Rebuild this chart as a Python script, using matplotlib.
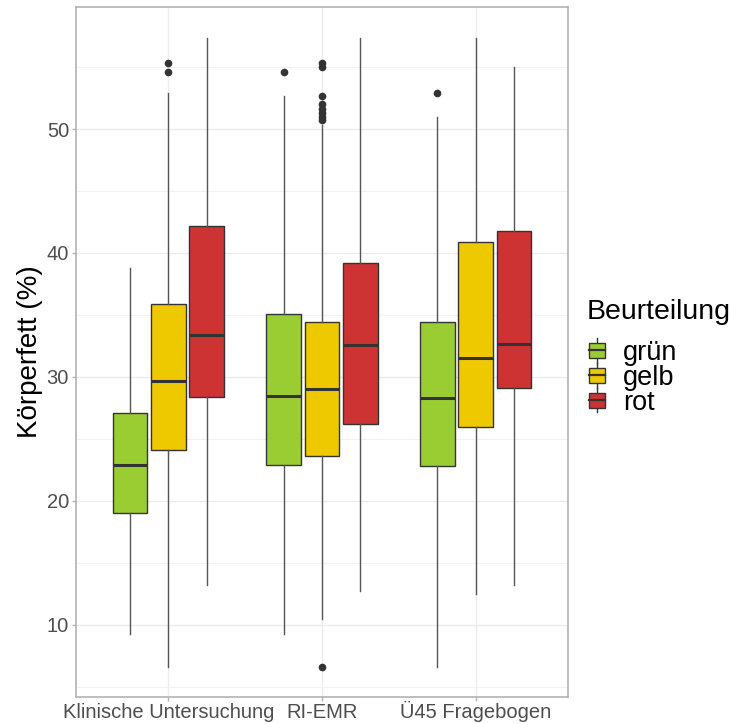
import matplotlib
matplotlib.use("Agg")
import matplotlib.pyplot as plt
from matplotlib.legend_handler import HandlerBase
from matplotlib.lines import Line2D
from matplotlib.patches import Patch, Rectangle

plt.rcParams["font.family"] = ["Liberation Sans", "DejaVu Sans"]

# data
categories = ["Klinische Untersuchung", "RI-EMR", "Ü45 Fragebogen"]
ratings = ["grün", "gelb", "rot"]
colors = ["#9ACD32", "#EEC900", "#CD3333"]

# per category: [grün, gelb, rot]
whislo = [[9.3, 6.6, 13.2], [9.3, 10.5, 12.7], [6.6, 12.5, 13.2]]
q1 = [[19.0, 24.1, 28.4], [22.9, 23.6, 26.2], [22.8, 26.0, 29.1]]
med = [[22.9, 29.7, 33.4], [28.5, 29.0, 32.6], [28.3, 31.5, 32.7]]
q3 = [[27.1, 35.9, 42.2], [35.1, 34.4, 39.2], [34.4, 40.9, 41.8]]
whishi = [[38.8, 52.9, 57.3], [52.7, 50.3, 57.3], [51.0, 57.3, 55.0]]
fliers = [
    [[], [54.6, 55.3], []],
    [[54.6], [6.6, 50.7, 51.0, 51.3, 51.6, 52.0, 52.7, 55.0, 55.3], []],
    [[52.9], [], []],
]

y_ticks = [10, 20, 30, 40, 50]
y_minor = [5, 15, 25, 35, 45, 55]

EDGE = "#333333"
GRID = "#EBEBEB"
BORDER = "#B3B3B3"
TEXT = "#4D4D4D"


class BoxKeyHandler(HandlerBase):
    def create_artists(self, legend, orig_handle, xdescent, ydescent,
                       width, height, fontsize, trans):
        cx = width / 2 - xdescent
        y0 = -ydescent
        bw = width * 0.8
        whisk = Line2D([cx, cx], [y0 - height * 0.15, y0 + height * 1.15],
                       color=EDGE, lw=1.0, transform=trans)
        box = Rectangle((cx - bw / 2, y0 + height * 0.1), bw, height * 0.8,
                        facecolor=orig_handle.get_facecolor(), edgecolor=EDGE,
                        lw=1.0, transform=trans)
        mid = Line2D([cx - bw / 2, cx + bw / 2], [y0 + height / 2] * 2,
                     color=EDGE, lw=1.6, transform=trans)
        return [whisk, box, mid]


def main():
    fig = plt.figure(figsize=(7.3, 7.24), dpi=100)
    ax = fig.add_axes([76 / 730, 27 / 724, 492 / 730, 690 / 724])

    offsets = [-0.25, 0.0, 0.25]
    for j, rating in enumerate(ratings):
        stats = []
        positions = []
        for i in range(len(categories)):
            stats.append(dict(whislo=whislo[i][j], q1=q1[i][j], med=med[i][j],
                              q3=q3[i][j], whishi=whishi[i][j],
                              fliers=fliers[i][j]))
            positions.append(i + 1 + offsets[j])
        ax.bxp(stats, positions=positions, widths=0.225, patch_artist=True,
               showcaps=False,
               boxprops=dict(facecolor=colors[j], edgecolor=EDGE, linewidth=1.0),
               medianprops=dict(color=EDGE, linewidth=2.2),
               whiskerprops=dict(color="#555555", linewidth=1.0),
               flierprops=dict(marker="o", markersize=4.5, markerfacecolor=EDGE,
                               markeredgecolor=EDGE),
               zorder=3)

    ax.set_xlim(0.4, 3.6)
    ax.set_ylim(4.19, 59.84)
    ax.set_xticks([1, 2, 3])
    ax.set_xticklabels(categories)
    ax.set_yticks(y_ticks)
    ax.set_yticks(y_minor, minor=True)

    ax.grid(True, which="major", color=GRID, linewidth=1.0, zorder=0)
    ax.grid(True, which="minor", axis="y", color="#F2F2F2", linewidth=0.8, zorder=0)
    ax.set_axisbelow(True)

    ax.tick_params(axis="both", which="major", length=3, width=1.0, color=BORDER,
                   labelsize=14.5, labelcolor=TEXT, pad=2)
    ax.tick_params(axis="x", which="major", pad=12)
    for lbl in ax.get_xticklabels():
        lbl.set_verticalalignment("baseline")
    ax.tick_params(axis="both", which="minor", length=0)
    for s in ax.spines.values():
        s.set_color(BORDER)
        s.set_linewidth(1.2)

    ax.set_ylabel("Körperfett (%)", fontsize=20, color="black", labelpad=3)

    handles = [Patch(facecolor=c, edgecolor=EDGE) for c in colors]
    leg = fig.legend(handles, ratings, title="Beurteilung", loc="upper left",
                     bbox_to_anchor=(573 / 730, 1 - 285 / 724), frameon=False,
                     fontsize=19.5, title_fontsize=20.5, handlelength=0.75,
                     handleheight=0.7, handletextpad=0.6, labelspacing=-0.04,
                     borderpad=0, alignment="left",
                     handler_map={Patch: BoxKeyHandler()})
    # extra gap between legend title and keys, as in the reference
    leg._legend_box.sep = 11

    fig.savefig("out.png", dpi=100)


if __name__ == "__main__":
    main()
